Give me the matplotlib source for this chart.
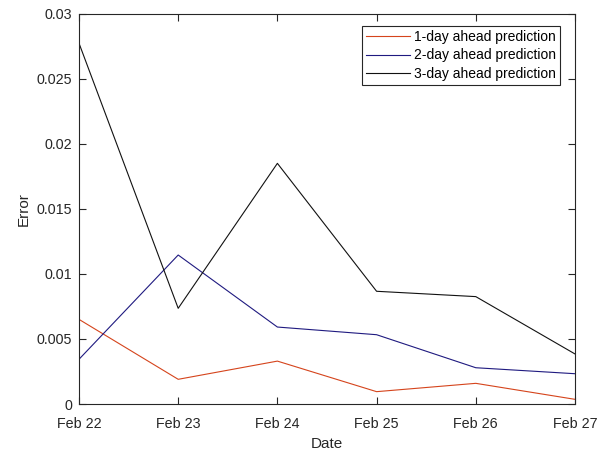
import matplotlib.pyplot as plt
import numpy as np

# prediction error per day, for each forecast horizon
dates = ["Feb 22", "Feb 23", "Feb 24", "Feb 25", "Feb 26", "Feb 27"]
err_1day = [0.00651, 0.00190, 0.00330, 0.00095, 0.00159, 0.00036]
err_2day = [0.00344, 0.01146, 0.00592, 0.00533, 0.00279, 0.00233]
err_3day = [0.02775, 0.00736, 0.01851, 0.00867, 0.00826, 0.00385]

plt.rcParams['font.family'] = ['Liberation Sans', 'DejaVu Sans']
plt.rcParams['font.size'] = 10

fig = plt.figure(figsize=(6.1, 4.5), dpi=100)
ax = fig.add_axes([0.1295, 0.1022, 0.8131, 0.8668])

x = np.arange(len(dates))
ax.plot(x, err_1day, color='#d5441c', linewidth=0.8, label='1-day ahead prediction')
ax.plot(x, err_2day, color='#1f1a80', linewidth=0.8, label='2-day ahead prediction')
ax.plot(x, err_3day, color='#111111', linewidth=0.8, label='3-day ahead prediction')

ax.set_xlim(0, len(dates) - 1)
ax.set_ylim(0, 0.03)
ax.set_xticks(x)
ax.set_xticklabels(dates)
ax.set_yticks([0, 0.005, 0.01, 0.015, 0.02, 0.025, 0.03])
ax.set_yticklabels(['0', '0.005', '0.01', '0.015', '0.02', '0.025', '0.03'])

axis_col = '#262626'
for s in ax.spines.values():
    s.set_color(axis_col)
    s.set_linewidth(0.8)
ax.tick_params(direction='in', top=True, right=True, length=5, width=0.8,
               colors=axis_col, labelcolor=axis_col, labelsize=10.3)
ax.tick_params(axis='x', pad=9)
ax.tick_params(axis='y', pad=5)
ax.set_xlabel('Date', fontsize=11, color=axis_col, labelpad=5)
ax.set_ylabel('Error', fontsize=11, color=axis_col, labelpad=4)

leg = ax.legend(loc='upper right', bbox_to_anchor=(0.9698, 0.969), borderaxespad=0,
                fancybox=False, framealpha=1, edgecolor='#262626', fontsize=10,
                handlelength=3.2, borderpad=0.3, labelspacing=0.3, handletextpad=0.25)
leg.get_frame().set_linewidth(0.8)

fig.savefig('out.png', dpi=100)
